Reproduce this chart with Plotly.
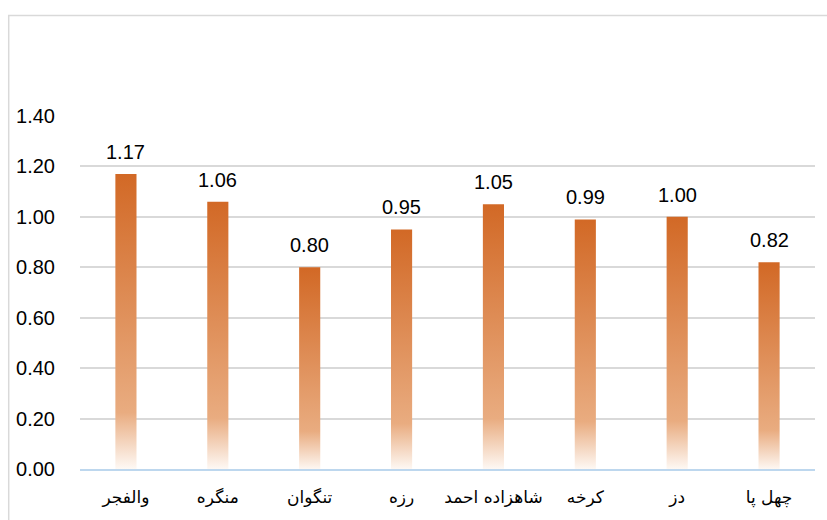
import plotly.graph_objects as go

categories = ["والفجر", "منگره", "تنگوان", "رزه", "شاهزاده احمد", "کرخه", "دز", "چهل پا"]
values = [1.17, 1.06, 0.80, 0.95, 1.05, 0.99, 1.00, 0.82]
value_labels = ["1.17", "1.06", "0.80", "0.95", "1.05", "0.99", "1.00", "0.82"]
y_ticks = [0.0, 0.2, 0.4, 0.6, 0.8, 1.0, 1.2, 1.4]
y_ticklabels = ["0.00", "0.20", "0.40", "0.60", "0.80", "1.00", "1.20", "1.40"]

HALF_W = 0.115
grad = [[0.0, "rgb(255,253,251)"], [0.2, "rgb(233,172,128)"], [1.0, "rgb(210,105,38)"]]

fig = go.Figure()
for i, v in enumerate(values):
    fig.add_trace(go.Scatter(
        x=[i - HALF_W, i + HALF_W, i + HALF_W, i - HALF_W, i - HALF_W],
        y=[0, 0, v, v, 0],
        mode="lines", line=dict(width=0), fill="toself",
        fillgradient=dict(type="vertical", colorscale=grad, start=0, stop=v),
        hoverinfo="skip", showlegend=False,
    ))

for i, (v, t) in enumerate(zip(values, value_labels)):
    fig.add_annotation(x=i, y=v, text=t, showarrow=False, yanchor="bottom", yshift=9,
                       font=dict(family="Liberation Sans", size=20, color="#000000"))

fig.add_shape(type="rect", xref="paper", yref="paper", x0=-0.097, x1=1.05, y0=-0.3, y1=1.285,
              line=dict(color="#D9D9D9", width=1.5), fillcolor="rgba(0,0,0,0)", layer="below")

fig.update_layout(
    width=827, height=520,
    margin=dict(l=80, r=12, t=116, b=48),
    plot_bgcolor="white", paper_bgcolor="white",
    showlegend=False,
    xaxis=dict(range=[-0.5, 7.5], tickmode="array", tickvals=list(range(len(categories))),
               ticktext=categories, showgrid=False, zeroline=False, showline=True,
               linecolor="#BDD7EE", linewidth=2, ticks="outside", ticklen=12, tickcolor="rgba(0,0,0,0)",
               tickfont=dict(family="DejaVu Sans", size=17, color="#000000")),
    yaxis=dict(range=[0, 1.4], tickmode="array", tickvals=y_ticks, ticktext=y_ticklabels,
               showgrid=True, gridcolor="#D9D9D9", gridwidth=1.5, zeroline=False, showline=False,
               ticks="outside", ticklen=20, tickcolor="rgba(0,0,0,0)",
               tickfont=dict(family="Liberation Sans", size=20, color="#000000")),
)

fig.write_html("out.html")
